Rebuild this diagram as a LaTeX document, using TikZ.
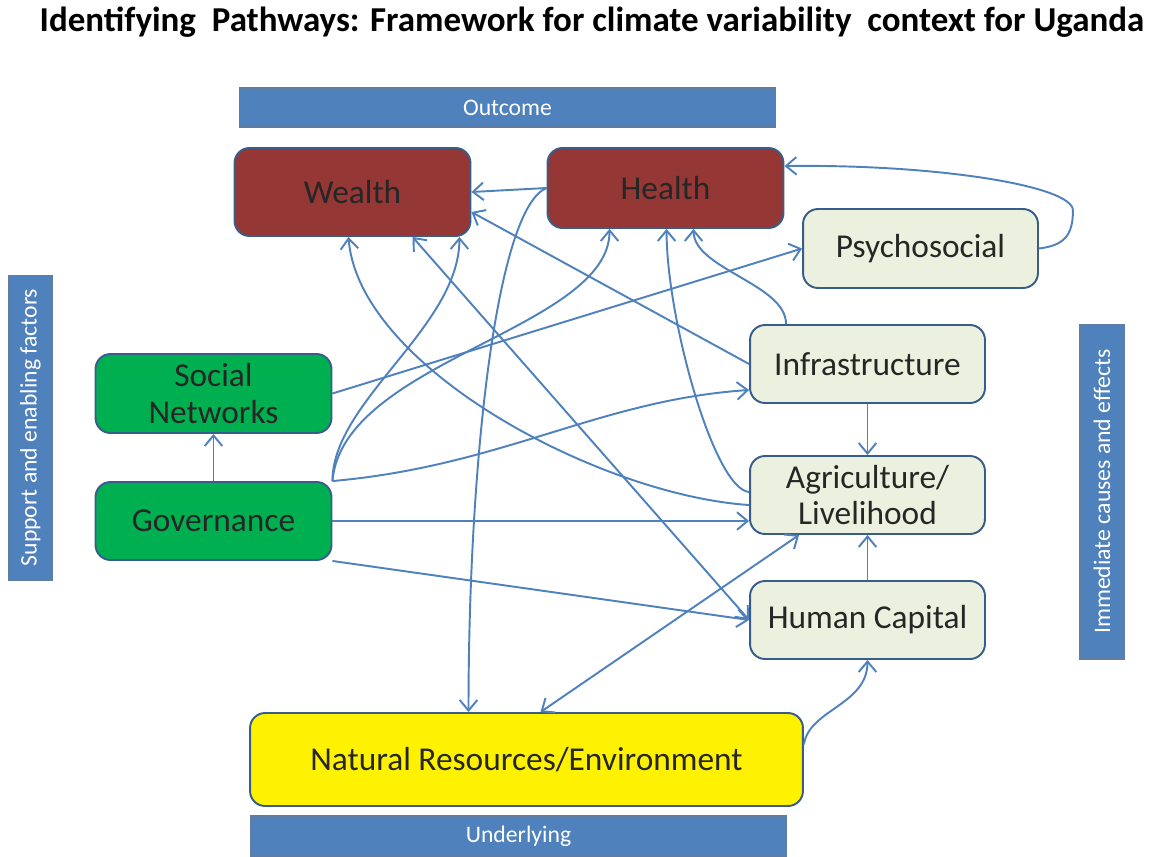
\documentclass[tikz,border=0pt]{standalone}
\usepackage{fontspec}
\setmainfont{Carlito}
\usetikzlibrary{calc,arrows.meta}
\definecolor{barblue}{HTML}{4F81BD}
\definecolor{edgeblue}{HTML}{385D8A}
\definecolor{outred}{HTML}{953735}
\definecolor{govgreen}{HTML}{00B050}
\definecolor{palegreen}{HTML}{EBF1DE}
\definecolor{linkblue}{HTML}{4F81BD}

\begin{document}
\begin{tikzpicture}[x=0.02cm,y=-0.02cm,>={Straight Barb[length=6pt,width=10pt]},
		box/.style={draw=edgeblue,line width=1.1pt,rounded corners=0.3cm,minimum width=4.72cm,minimum height=1.56cm,inner sep=0pt,align=center,text=black!85,font=\fontsize{19}{21}\selectfont},
		bar/.style={fill=barblue,draw=edgeblue!80,line width=0.6pt,inner sep=0pt,text=white,font=\fontsize{13.5}{15}\selectfont},
		link/.style={linkblue,line width=1.1pt,->}]
				\useasboundingbox (0,0) rectangle (1155,856);
				
				\node[font=\fontsize{19.9}{22}\selectfont\bfseries] (title) at (592,22) {Identifying\ \ Pathways: Framework for climate variability\ \ context for Uganda};
				
				\node[bar,minimum width=10.74cm,minimum height=0.78cm] (outcome) at (507.5,107.5) {Outcome};
				\node[bar,minimum width=10.74cm,minimum height=0.8cm] (underlying) at (518.5,836) {Underlying};
				\node[bar,rotate=90,minimum width=6.1cm,minimum height=0.86cm] (support) at (30.5,427.5) {Support and enabling factors};
				\node[bar,rotate=90,minimum width=6.7cm,minimum height=0.88cm] (immediate) at (1102,491.5) {Immediate causes and effects};
				
				\node[box,fill=outred,minimum height=1.76cm] (wealth) at (352.5,192) {Wealth};
				\node[box,fill=outred,minimum height=1.6cm] (health) at (665.5,188) {Health};
				\node[box,fill=palegreen,minimum width=4.7cm,minimum height=1.58cm] (psycho) at (920.5,248.5) {Psychosocial};
				\node[box,fill=govgreen,minimum height=1.58cm] (social) at (213.5,393.5) {Social\\Networks};
				\node[box,fill=govgreen] (gov) at (213.5,521) {Governance};
				\node[box,fill=palegreen,minimum width=4.7cm] (infra) at (867.5,364) {Infrastructure};
				\node[box,fill=palegreen,minimum width=4.7cm] (agri) at (867.5,495) {Agriculture/\\Livelihood};
				\node[box,fill=palegreen,minimum width=4.7cm] (human) at (867.5,620) {Human Capital};
				\node[box,fill=yellow,minimum width=11.06cm,minimum height=1.86cm] (natres) at (526.5,759.5) {Natural Resources/Environment};
				
				\draw[link] (health.west) -- (wealth.east);
				\draw[link] (health.west) .. controls +(-50,20) and +(0,-250) .. ($(natres.north)+(-58,0)$);
				\draw[link] (gov.north east) .. controls +(0,-80) and +(0,90) .. ($(wealth.south east)+(-12,0)$);
				\draw[link] (gov.north east) .. controls +(10,-120) and +(0,100) .. ($(health.south west)+(63,0)$);
				\draw[link] (gov.north east) .. controls +(170,-15) and +(-150,10) .. ($(infra.west)+(0,26)$);
				\draw[link] (gov.east) -- (gov.east -| agri.west);
				\draw[link] (gov.south east) -- (human.west);
				\draw[link] (gov.north) -- (social.south);
				\draw[link] (social.east) -- (psycho.west);
				\draw[link] (psycho.east) .. controls +(25,-3) and +(0,25) .. ($(psycho.east)+(34,-38)$)
					.. controls +(0,-25) and +(150,-2) .. ($(health.north east)+(0,19)$);
				\draw[link] (infra.west) -- ($(wealth.east)+(0,20)$);
				\draw[link] ($(infra.north west)+(37,0)$) .. controls +(0,-40) and +(0,40) .. ($(health.south west)+(147,0)$);
				\draw[link] ($(agri.west)+(0,-3)$) .. controls +(-35,-3) and +(0,90) .. ($(health.south west)+(120,0)$);
				\draw[link] ($(agri.west)+(0,10)$) .. controls +(-150,-10) and +(10,130) .. ($(wealth.south)+(-4,0)$);
				\draw[link,<->] ($(wealth.south)+(60,0)$) -- (human.west);
				\draw[link] (infra.south) -- (agri.north);
				\draw[link] (human.north) -- (agri.south);
				\draw[link,<->] ($(natres.north)+(14,0)$) -- ($(agri.south west)+(50,0)$);
				\draw[link] ($(natres.east)+(0,-15)$) .. controls +(5,-35) and +(0,45) .. (human.south);
			\end{tikzpicture}
\end{document}
